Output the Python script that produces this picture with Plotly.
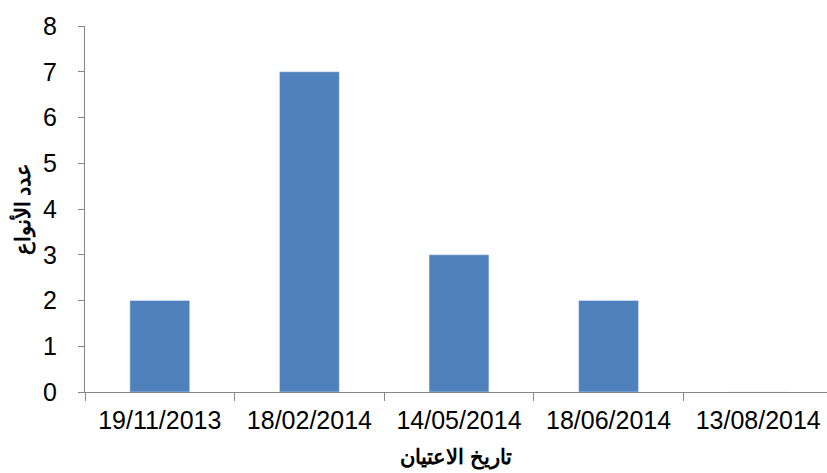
import plotly.graph_objects as go

categories = ["19/11/2013", "18/02/2014", "14/05/2014", "18/06/2014", "13/08/2014"]
values = [2, 7, 3, 2, 0]
x_title = "تاريخ الاعتيان"
y_title = "عدد الأنواع"

fig = go.Figure(go.Bar(x=categories, y=values, marker_color="#4F81BD", width=0.4))

axis_color = "#868686"
fig.update_layout(
    width=827, height=473,
    margin=dict(l=85, r=0, t=26, b=81),
    plot_bgcolor="white", paper_bgcolor="white",
    font=dict(family="Liberation Sans, Arial, sans-serif", size=25, color="black"),
    showlegend=False,
)
fig.update_xaxes(
    type="category", range=[-0.5, 4.46],
    showline=True, linecolor=axis_color, linewidth=1,
    ticks="outside", tickson="boundaries", ticklen=8, tickcolor=axis_color,
    showgrid=False, ticklabelstandoff=6,
    title=dict(text="<b>" + x_title + "</b>", font=dict(size=21), standoff=16),
)
fig.update_yaxes(
    range=[0, 8], dtick=1,
    showline=True, linecolor=axis_color, linewidth=1,
    ticks="outside", ticklen=6, tickcolor=axis_color,
    showgrid=False, zeroline=False, ticklabelstandoff=16,
    title=dict(text="<b>" + y_title + "</b>", font=dict(size=21), standoff=6),
)
fig.write_html("out.html", config={"displayModeBar": False},
               post_script="document.body.style.margin='0';")
